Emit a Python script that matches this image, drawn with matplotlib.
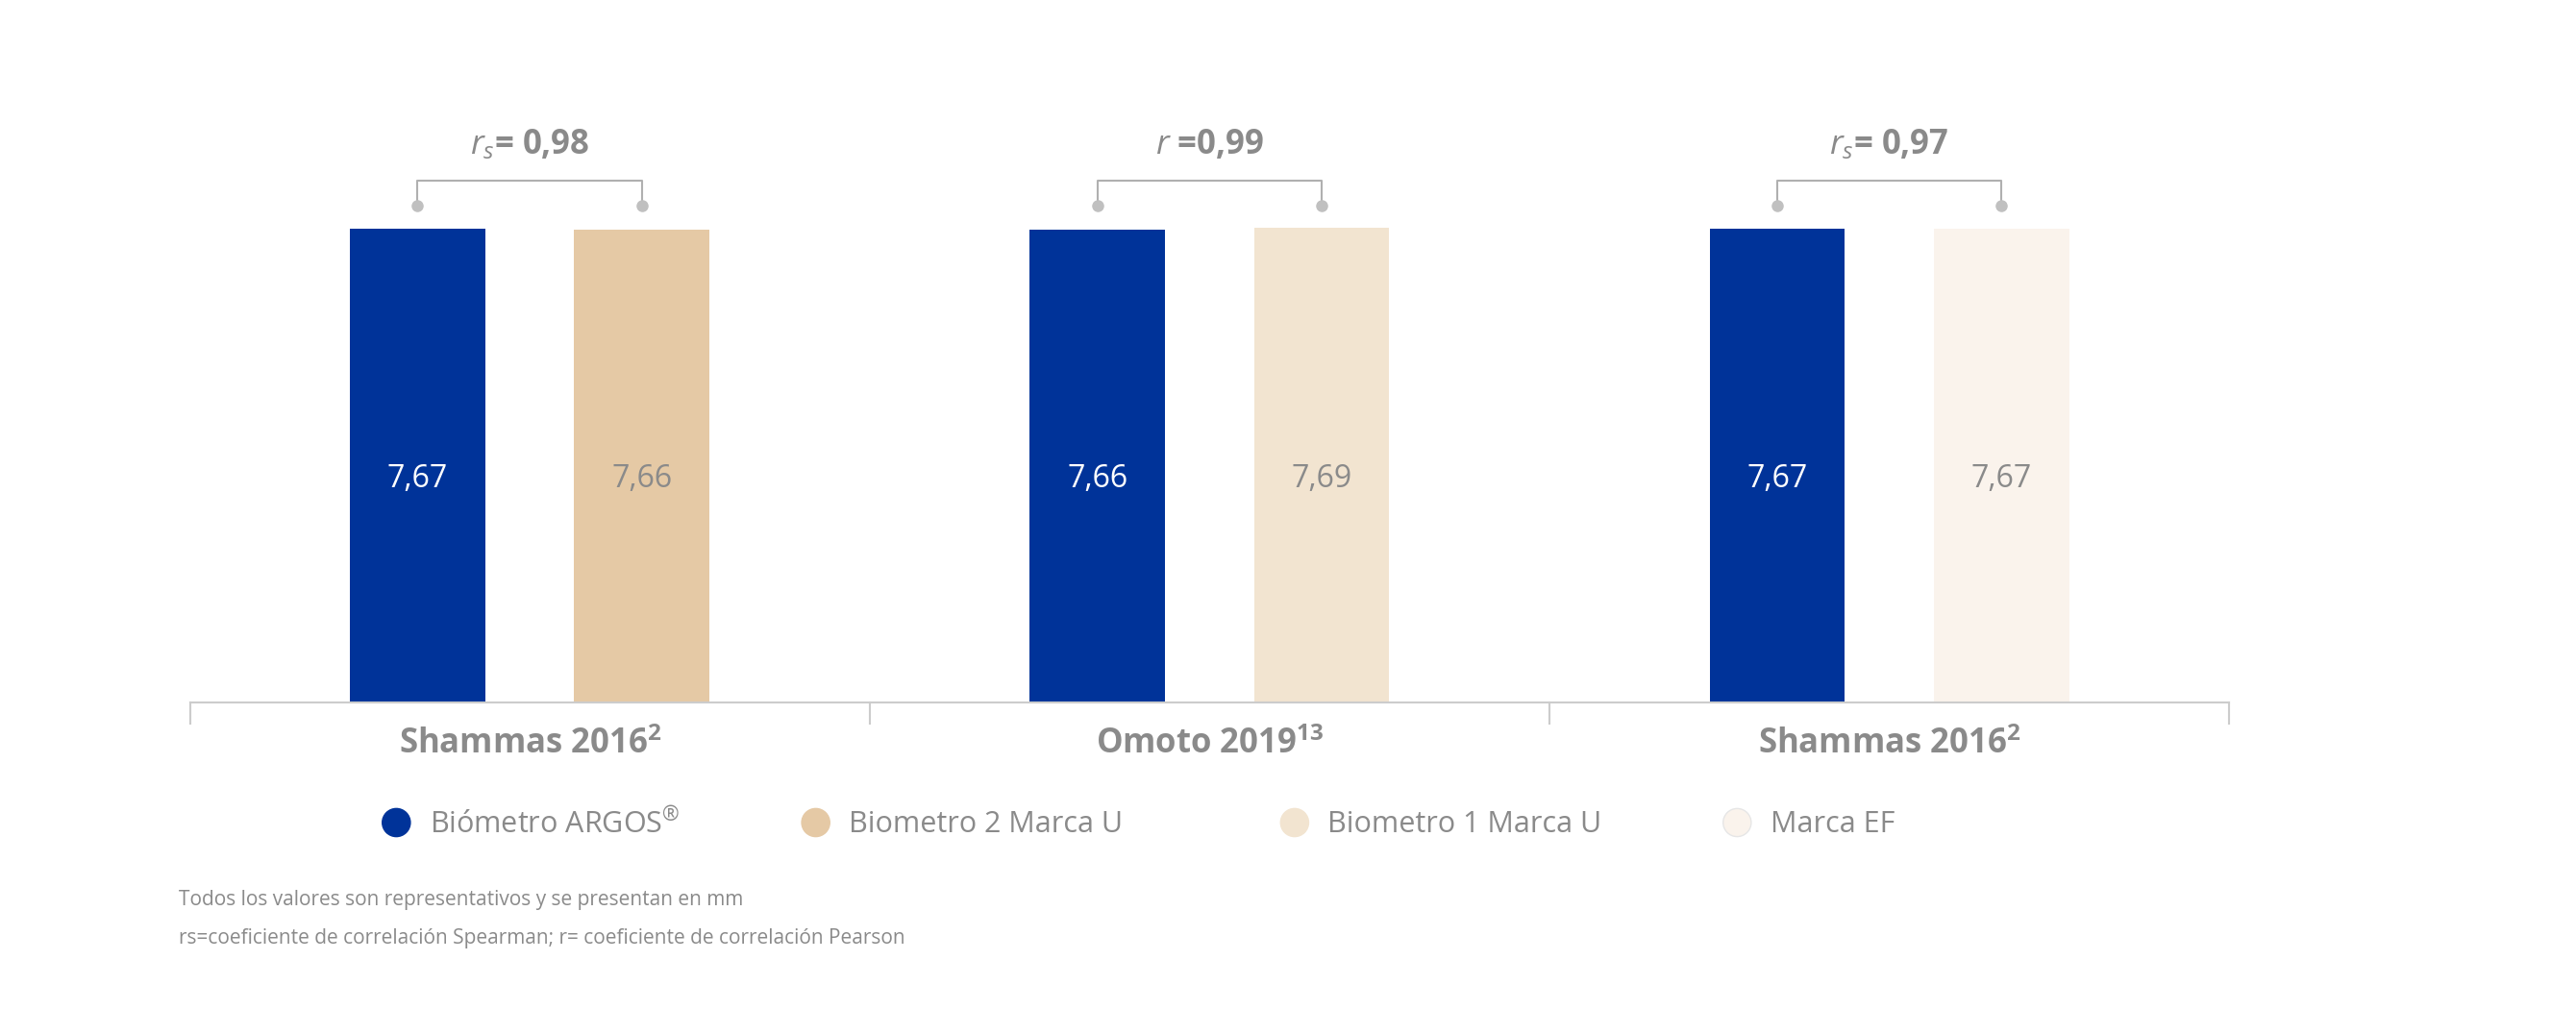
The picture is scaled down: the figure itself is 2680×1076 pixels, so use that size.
import matplotlib
matplotlib.use("Agg")
from matplotlib import pyplot as plt
from matplotlib.patches import Ellipse

plt.rcParams['font.family'] = ['Open Sans', 'DejaVu Sans']
plt.rcParams['mathtext.fontset'] = 'custom'
plt.rcParams['mathtext.rm'] = 'Open Sans'
plt.rcParams['mathtext.it'] = 'Open Sans:italic'
plt.rcParams['mathtext.bf'] = 'Open Sans:bold'

# Data
studies = ["Shammas 2016", "Omoto 2019", "Shammas 2016"]
study_refs = ["2", "13", "2"]
argos_values = [7.67, 7.66, 7.67]
other_values = [7.66, 7.69, 7.67]
other_colors = ["#E5C9A5", "#F2E4D0", "#FAF3EC"]
correlations = [r"$\mathit{r}_{\mathit{s}}$= 0,98", r"$\mathit{r}$ =0,99", r"$\mathit{r}_{\mathit{s}}$= 0,97"]
legend_names = [r"Biómetro ARGOS$^{®}$", "Biometro 2 Marca U", "Biometro 1 Marca U", "Marca EF"]
legend_colors = ["#003399", "#E5C9A5", "#F2E4D0", "#FAF3EC"]

W, H = 1560.0, 626.0  # reference layout units
gray = "#8a8a8a"

fig = plt.figure(figsize=(26.8, 10.76), dpi=100)
ax = fig.add_axes([115 / W, 1 - 425 / H, 1235 / W, (425 - 138) / H])
ax.set_xlim(0, 3)
ax.set_ylim(0, 7.69)
ax.axis("off")

centers = [0.5, 1.5, 2.5]
off, bw = 0.165, 0.199
for i, c in enumerate(centers):
    ax.bar(c - off, argos_values[i], bw, color="#003399")
    ax.bar(c + off, other_values[i], bw, color=other_colors[i])
    ax.text(c - off, 7.69 * 0.47, f"{argos_values[i]:.2f}".replace(".", ","),
            ha="center", va="center", color="white", fontsize=23)
    ax.text(c + off, 7.69 * 0.47, f"{other_values[i]:.2f}".replace(".", ","),
            ha="center", va="center", color=gray, fontsize=23)
    # bracket
    ax.plot([c - off, c - off, c + off, c + off], [1.0565 * 7.69, 1.1 * 7.69, 1.1 * 7.69, 1.0565 * 7.69],
            color="#b0b0b0", lw=1.5, clip_on=False)
    ax.plot([c - off, c + off], [1.0465 * 7.69] * 2, "o", color="#c0c0c0", ms=8, clip_on=False)
    ax.text(c, 1.175 * 7.69, correlations[i], ha="center", va="center",
            fontsize=25, fontweight="bold", color=gray)
    ax.text(c, -0.09 * 7.69, studies[i] + r"$^{\mathbf{" + study_refs[i] + "}}$", ha="center", va="center",
            fontsize=25, fontweight="bold", color=gray)

# baseline with ticks
ax.plot([0, 3], [0, 0], color="#cccccc", lw=1.5, clip_on=False)
for t in [0, 1, 2, 3]:
    ax.plot([t, t], [0, -0.045 * 7.69], color="#cccccc", lw=1.5, clip_on=False)

# legend
leg_x = [240, 494, 784, 1052]
for x, name, col in zip(leg_x, legend_names, legend_colors):
    fig.patches.append(Ellipse((x / W, 1 - 498 / H), 17 / W, 17 / H, transform=fig.transFigure,
                               facecolor=col, edgecolor="#e6e6e6" if col == "#FAF3EC" else col, lw=1))
    fig.text((x + 20) / W, 1 - 499 / H, name, ha="left", va="center", fontsize=22, color=gray)

fig.text(108 / W, 1 - 545 / H, "Todos los valores son representativos y se presentan en mm",
         fontsize=15, color=gray, va="center")
fig.text(108 / W, 1 - 568 / H, "rs=coeficiente de correlación Spearman; r= coeficiente de correlación Pearson",
         fontsize=15, color=gray, va="center")

plt.savefig("out.png", dpi=100)
